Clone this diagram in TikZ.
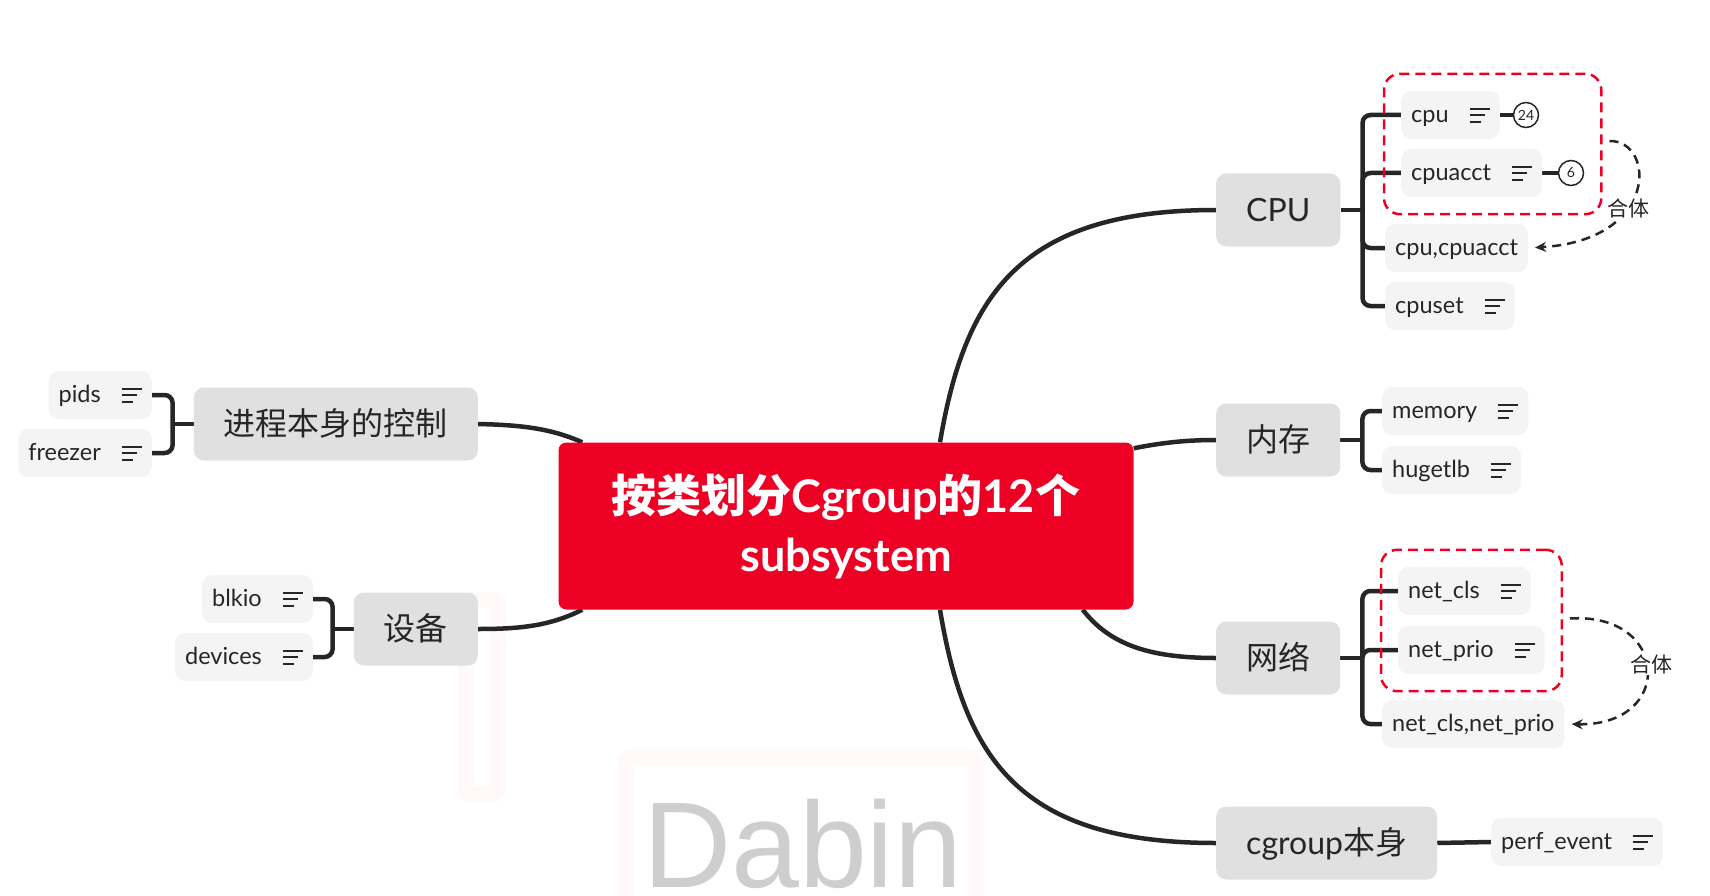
\documentclass[tikz,border=0pt]{standalone}
\usepackage{fontspec}
\setmainfont{Lato}
\newfontfamily\cjk{Noto Sans CJK SC}
\newfontfamily\markfont{Liberation Sans}
\usepackage{tikz}
\usetikzlibrary{arrows.meta,calc,fit,backgrounds}
\definecolor{rootred}{RGB}{238,0,36}
\definecolor{topicgray}{RGB}{224,224,224}
\definecolor{subgray}{RGB}{244,244,244}
\definecolor{ink}{RGB}{38,38,38}
\definecolor{markgray}{RGB}{206,206,206}
\definecolor{markpink}{RGB}{255,249,249}
\newcommand\notemark{\hspace{21pt}\vbox{\hrule width 20pt height 2pt\vskip 4.5pt\hrule width 15pt height 2pt\vskip 4.5pt\hrule width 11pt height 2pt}}

\begin{document}
\begin{tikzpicture}[x=1pt, y=-1pt,
  every node/.style={text=ink},
  rootbox/.style={fill=rootred, text=white, rounded corners=8pt, minimum width=575pt, minimum height=167pt, align=center, font=\fontsize{45}{59}\selectfont\bfseries},
  topicbox/.style={fill=topicgray, rounded corners=10pt, minimum height=73pt, inner xsep=30pt, inner ysep=0pt, text height=30pt, text depth=7pt, font=\fontsize{32}{38}\selectfont},
  subbox/.style={fill=subgray, rounded corners=10pt, minimum height=48pt, inner xsep=10pt, inner ysep=0pt, text height=20.5pt, text depth=5pt, font=\fontsize{23.5}{28}\selectfont},
  badge/.style={circle, draw=ink, line width=1.5pt, fill=white, minimum size=25pt, inner sep=0pt, font=\fontsize{14}{16}\selectfont},
  branchline/.style={draw=ink, line width=4.5pt, rounded corners=8pt},
  groupbox/.style={draw=rootred, line width=2.5pt, dash pattern=on 10pt off 6pt, rounded corners=16pt, inner sep=17pt},
  mergearrow/.style={draw=ink, line width=2.5pt, dash pattern=on 9pt off 6pt, -{Stealth[length=11pt,width=10pt]}, shorten >=7pt},
  mergelabel/.style={fill=white, inner sep=1pt, font=\cjk\fontsize{21}{24}\selectfont}]
  \useasboundingbox (0,0) rectangle (1710,896);

  \node[rootbox] (root) at (846,526) {{\cjk 按类划分}Cgroup{\cjk 的}12{\cjk 个}\\subsystem};

  \node[topicbox, anchor=west] (CPU) at (1216,210) {CPU};
  \node[topicbox, anchor=west] (mem) at (1216,440) {\cjk 内存};
  \node[topicbox, anchor=west] (net) at (1216,658) {\cjk 网络};
  \node[topicbox, anchor=west] (self) at (1216,843) {cgroup{\cjk 本身}};
  \node[topicbox, anchor=east] (proc) at (478,424) {\cjk 进程本身的控制};
  \node[topicbox, anchor=east] (dev) at (478,629) {\cjk 设备};

  \node[subbox, anchor=west] (cpu) at (1401,115) {cpu\notemark};
  \node[subbox, anchor=west] (cpuacct) at (1401,173) {cpuacct\notemark};
  \node[subbox, anchor=west] (cpuboth) at (1385,248) {cpu,cpuacct};
  \node[subbox, anchor=west] (cpuset) at (1385,306) {cpuset\notemark};
  \node[badge] (cnt24) at (1526,115) {24};
  \node[badge] (cnt6) at (1571,173) {6};

  \node[subbox, anchor=west] (memory) at (1382,411) {memory\notemark};
  \node[subbox, anchor=west] (hugetlb) at (1382,470) {hugetlb\notemark};

  \node[subbox, anchor=west] (netcls) at (1398,591) {net\_cls\notemark};
  \node[subbox, anchor=west] (netprio) at (1398,650) {net\_prio\notemark};
  \node[subbox, anchor=west] (netboth) at (1382,724) {net\_cls,net\_prio};

  \node[subbox, anchor=west] (perf) at (1491,842) {perf\_event\notemark};

  \node[subbox, anchor=east] (pids) at (152,395) {pids\notemark};
  \node[subbox, anchor=east] (freezer) at (152,453) {freezer\notemark};
  \node[subbox, anchor=east] (blkio) at (313,599) {blkio\notemark};
  \node[subbox, anchor=east] (devices) at (313,657) {devices\notemark};

  \begin{scope}[on background layer]
    \draw[markpink, line width=16pt, rounded corners=6pt] (465,600) rectangle (498,794);
    \draw[markpink, line width=16pt, rounded corners=6pt] (626,757) rectangle (976,930);
    \node[anchor=base west, inner sep=0pt, text=markgray, font=\markfont\fontsize{122}{122}\selectfont] (mark) at (643,887) {Dabin};

    \draw[branchline] ($(root.north)+(94,0)$) .. controls (965,295) and (1020,210) .. (CPU.west);
    \draw[branchline] ($(root.north east)+(0,6)$) .. controls (1165,442) and (1190,440) .. (mem.west);
    \draw[branchline] ($(root.south east)+(-51,0)$) .. controls (1110,645) and (1150,658) .. (net.west);
    \draw[branchline] ($(root.south)+(94,0)$) .. controls (965,760) and (1020,843) .. (self.west);
    \draw[branchline] ($(root.north west)+(24,0)$) .. controls (550,428) and (520,425) .. (proc.east);
    \draw[branchline] ($(root.south west)+(24,0)$) .. controls (550,626) and (520,629) .. (dev.east);

    \coordinate (cpubus) at ($(CPU.east)+(22,0)$);
    \draw[branchline] (CPU.east) -- (cpubus);
    \draw[branchline] (cpu.west) -| (cpubus) |- (cpuset.west);
    \draw[branchline] (cpuacct.west) -| (cpubus);
    \draw[branchline] (cpuboth.west) -| (cpubus);
    \draw[branchline] (cpu.east) -- (cnt24);
    \draw[branchline] (cpuacct.east) -- (cnt6);

    \coordinate (membus) at ($(mem.east)+(22,0)$);
    \draw[branchline] (mem.east) -- (membus);
    \draw[branchline] (memory.west) -| (membus) |- (hugetlb.west);

    \coordinate (netbus) at ($(net.east)+(22,0)$);
    \draw[branchline] (net.east) -- (netbus);
    \draw[branchline] (netcls.west) -| (netbus) |- (netboth.west);
    \draw[branchline] (netprio.west) -| (netbus);

    \draw[branchline] (self.east) -- (perf.west);

    \coordinate (procbus) at ($(proc.west)+(-21,0)$);
    \draw[branchline] (proc.west) -- (procbus);
    \draw[branchline] (pids.east) -| (procbus) |- (freezer.east);

    \coordinate (devbus) at ($(dev.west)+(-21,0)$);
    \draw[branchline] (dev.west) -- (devbus);
    \draw[branchline] (blkio.east) -| (devbus) |- (devices.east);
  \end{scope}

  \node[groupbox, fit=(cpu)(cpuacct)(cnt6)] (cpugroup) {};
  \node[groupbox, fit=(netcls)(netprio)] (netgroup) {};

  \draw[mergearrow] ($(cpugroup.east)+(7,-3)$) .. controls (1655,140) and (1660,240) .. (cpuboth.east);
  \node[mergelabel] (cpumerge) at (1628,208) {合体};
  \draw[mergearrow] ($(netgroup.east)+(7,-2)$) .. controls (1670,612) and (1675,726) .. (netboth.east);
  \node[mergelabel] (netmerge) at (1651,664) {合体};
\end{tikzpicture}
\end{document}
